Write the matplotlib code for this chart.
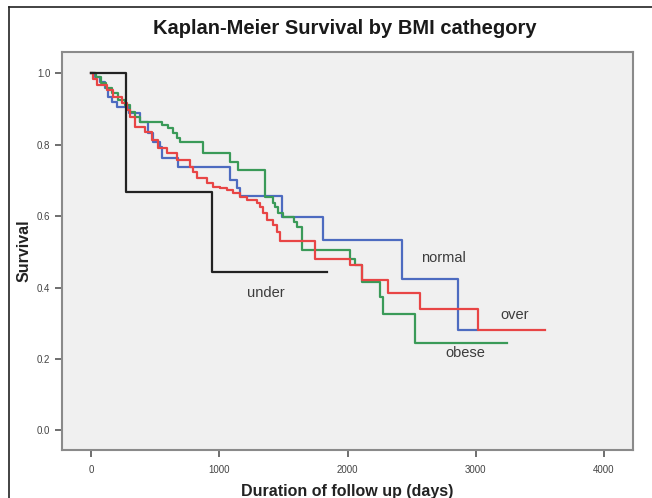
import matplotlib
matplotlib.use('Agg')
import matplotlib.pyplot as plt
from matplotlib.lines import Line2D

plt.rcParams['font.family'] = ['Liberation Sans', 'DejaVu Sans']

# ─── Kaplan-Meier step data (time in days, survival) ─────────────────────────
normal_t = [0, 30, 70, 110, 135, 160, 200, 300, 380, 447, 486, 538, 551, 681,
            1084, 1140, 1162, 1487, 1811, 2422, 2864, 3010]
normal_s = [1.0, 0.99, 0.975, 0.958, 0.934, 0.92, 0.906, 0.888, 0.864, 0.832,
            0.808, 0.794, 0.762, 0.738, 0.701, 0.68, 0.656, 0.598, 0.533,
            0.425, 0.282, 0.282]

obese_t = [0, 40, 80, 120, 160, 210, 265, 305, 345, 380, 550, 600, 640, 670,
           695, 875, 1085, 1150, 1357, 1420, 1435, 1460, 1500, 1580, 1610,
           1643, 2020, 2058, 2111, 2253, 2279, 2526, 3241]
obese_s = [1.0, 0.99, 0.972, 0.958, 0.944, 0.925, 0.911, 0.892, 0.878, 0.864,
           0.855, 0.846, 0.832, 0.818, 0.808, 0.776, 0.752, 0.729, 0.654,
           0.636, 0.626, 0.608, 0.598, 0.585, 0.570, 0.505, 0.481, 0.463,
           0.416, 0.374, 0.327, 0.245, 0.245]

over_t = [0, 15, 44, 122, 174, 239, 278, 304, 343, 421, 473, 525, 590, 668,
          772, 798, 824, 902, 954, 1006, 1058, 1110, 1162, 1214, 1292, 1318,
          1344, 1370, 1422, 1448, 1474, 1747, 2020, 2111, 2316, 2565, 3020,
          3540]
over_s = [1.0, 0.985, 0.967, 0.953, 0.934, 0.916, 0.897, 0.878, 0.85, 0.836,
          0.813, 0.79, 0.776, 0.757, 0.738, 0.724, 0.706, 0.692, 0.682, 0.678,
          0.673, 0.664, 0.654, 0.645, 0.636, 0.626, 0.608, 0.589, 0.575,
          0.556, 0.53, 0.479, 0.463, 0.42, 0.385, 0.341, 0.282, 0.282]

under_t = [0, 270, 946, 1838]
under_s = [1.0, 0.667, 0.444, 0.444]

labels = ['normal', 'over', 'obese', 'under']
label_pos = [(2745, 0.482), (3306, 0.322), (2916, 0.216), (1365, 0.384)]

x_ticks = [0, 1000, 2000, 3000, 4000]
y_ticks = [0.0, 0.2, 0.4, 0.6, 0.8, 1.0]

# ─── Figure ──────────────────────────────────────────────────────────────────
fig = plt.figure(figsize=(6.52, 4.98), dpi=100)
ax = fig.add_axes([62 / 652, 1 - 450 / 498, (633 - 62) / 652, (450 - 52) / 498])
ax.set_facecolor('#f0f0f0')

lw = 1.6
ax.step(normal_t, normal_s, where='post', color='#4d6bc0', lw=lw)
ax.step(obese_t, obese_s, where='post', color='#3a9a58', lw=lw)
ax.step(over_t, over_s, where='post', color='#e84545', lw=lw)
ax.step(under_t, under_s, where='post', color='#222222', lw=lw)

for lab, (x, y) in zip(labels, label_pos):
    ax.text(x, y, lab, ha='center', va='center', fontsize=10.5, color='#3c3c3c')

ax.set_xlim(-226, 4226)
ax.set_ylim(-0.055, 1.06)
ax.set_xticks(x_ticks)
ax.set_yticks(y_ticks)
ax.set_yticklabels([f'{v:.1f}' for v in y_ticks])
ax.tick_params(axis='both', direction='out', length=5, width=1.2,
               color='#555555', labelsize=7, labelcolor='#444444')
ax.tick_params(axis='x', pad=6)
for sp in ax.spines.values():
    sp.set_color('#8a8a8a')
    sp.set_linewidth(1.5)

ax.set_xlabel('Duration of follow up (days)', fontsize=11.5, fontweight='bold',
              color='#222222', labelpad=6)
ax.set_ylabel('Survival', fontsize=11.5, fontweight='bold', color='#222222',
              labelpad=4)
fig.text(345 / 652, 1 - 28 / 498, 'Kaplan-Meier Survival by BMI cathegory',
         ha='center', va='center', fontsize=14.5, fontweight='bold', color='#1a1a1a')

# outer frame (left and top edges)
fig.add_artist(Line2D([9 / 652, 9 / 652], [0, 1 - 7 / 498], color='#222222', lw=1.2))
fig.add_artist(Line2D([9 / 652, 1], [1 - 7 / 498, 1 - 7 / 498], color='#222222', lw=1.2))

fig.savefig('out.png', dpi=100)
